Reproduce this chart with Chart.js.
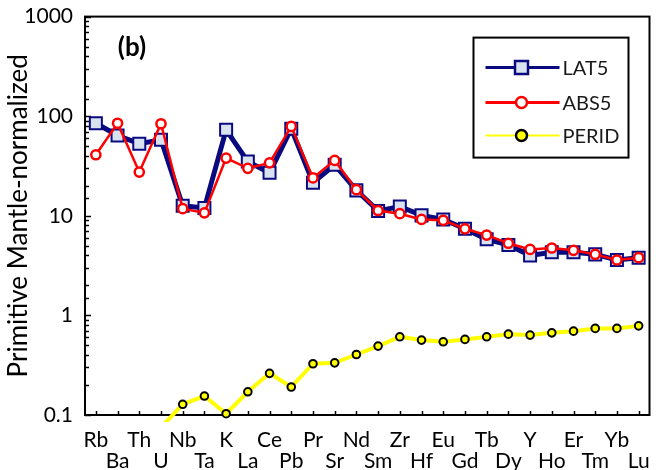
<!DOCTYPE html>
<html lang="en">
<head>
<meta charset="UTF-8">
<title>Primitive mantle-normalized spider diagram</title>
<script src="https://cdn.jsdelivr.net/npm/chart.js@4.4.0/dist/chart.umd.min.js"></script>
<style>
  body { margin: 0; background: #fff; overflow: hidden; }
  canvas { display: block; }
</style>
</head>
<body>
<canvas id="spider" width="660" height="470"></canvas>
<script>
// elements, in diagram order
var elements = ['Rb', 'Ba', 'Th', 'U', 'Nb', 'Ta', 'K', 'La', 'Ce', 'Pb', 'Pr', 'Sr', 'Nd',
                'Sm', 'Zr', 'Hf', 'Eu', 'Gd', 'Tb', 'Dy', 'Y', 'Ho', 'Er', 'Tm', 'Yb', 'Lu'];

// primitive mantle-normalized values
var lat5 = [85, 64, 53, 58, 12.6, 12.0, 73, 35, 27, 75, 21.5, 32.5, 18, 11.2,
            12.4, 10.1, 9.2, 7.4, 5.8, 5.1, 4.0, 4.3, 4.3, 4.1, 3.6, 3.8];
var abs5 = [41, 85, 27.5, 84, 11.8, 10.7, 38, 30, 34, 79, 24, 36, 18.3, 11.3,
            10.5, 9.2, 9.0, 7.4, 6.4, 5.3, 4.6, 4.75, 4.5, 4.1, 3.6, 3.8];
var perid = [null, null, null, 0.075, 0.128, 0.155, 0.103, 0.171, 0.262, 0.191, 0.327, 0.334, 0.405,
             0.492, 0.61, 0.565, 0.543, 0.574, 0.61, 0.648, 0.634, 0.668, 0.695, 0.74, 0.74, 0.785];

var yTickLabels = ['0.1', '1', '10', '100', '1000'];
var panelLabel = '(b)';

var FONT = 'Lato';

// frame box + inward tick marks (drawn under the data)
var framePlugin = {
    id: 'frame',
    beforeDatasetsDraw: function(chart) {
        var ctx = chart.ctx, a = chart.chartArea;
        var xs = chart.scales.x, ys = chart.scales.y;
        ctx.save();
        ctx.strokeStyle = '#000';
        ctx.lineWidth = 1.5;
        ys.ticks.forEach(function(t) {
            var e = Math.log10(t.value);
            var major = Math.abs(e - Math.round(e)) < 1e-6;
            var py = Math.round(ys.getPixelForValue(t.value)) + 0.5;
            ctx.beginPath();
            ctx.moveTo(a.left, py);
            ctx.lineTo(a.left + (major ? 6 : 4), py);
            ctx.stroke();
        });
        elements.forEach(function(el, i) {
            var px = Math.round(xs.getPixelForValue(i)) + 0.5;
            ctx.beginPath();
            ctx.moveTo(px, a.bottom);
            ctx.lineTo(px, a.bottom - 4);
            ctx.stroke();
        });
        ctx.lineWidth = 2;
        ctx.strokeRect(a.left, a.top, a.right - a.left, a.bottom - a.top);
        ctx.restore();
    },
    afterDatasetsDraw: function(chart) {
        var ctx = chart.ctx, a = chart.chartArea;
        ctx.save();
        // panel label
        ctx.fillStyle = '#000';
        ctx.font = 'bold 26px ' + FONT;
        ctx.textAlign = 'center';
        ctx.textBaseline = 'middle';
        ctx.fillText(panelLabel, a.left + 47, a.top + 31);

        // legend box
        var bw = 155, bh = 120;
        var bx = a.right - 21 - bw, by = a.top + 21;
        ctx.fillStyle = '#fff';
        ctx.fillRect(bx, by, bw, bh);
        ctx.strokeStyle = '#000';
        ctx.lineWidth = 2;
        ctx.strokeRect(bx, by, bw, bh);

        var rows = [30, 65, 98];
        var lineW = [3, 3, 2];
        chart.data.datasets.forEach(function(ds, i) {
            var y = by + rows[i];
            var mx = bx + 48;
            ctx.strokeStyle = ds.borderColor;
            ctx.lineWidth = lineW[i];
            ctx.beginPath();
            ctx.moveTo(bx + 12, y);
            ctx.lineTo(bx + 86, y);
            ctx.stroke();
            ctx.fillStyle = ds.pointBackgroundColor;
            ctx.strokeStyle = ds.pointBorderColor;
            ctx.lineWidth = 2.5;
            ctx.beginPath();
            if (ds.pointStyle === 'rect') {
                ctx.rect(mx - 6.5, y - 6.5, 13, 13);
            } else {
                ctx.arc(mx, y, 5.5, 0, Math.PI * 2);
            }
            ctx.fill();
            ctx.stroke();
            ctx.fillStyle = '#1a1a1a';
            ctx.font = '20px ' + FONT;
            ctx.textAlign = 'left';
            ctx.textBaseline = 'middle';
            ctx.fillText(ds.label, bx + 89, y + 1);
        });
        ctx.restore();
    }
};

var ctx = document.getElementById('spider').getContext('2d');
var spiderChart = new Chart(ctx, {
    type: 'line',
    data: {
        labels: elements,
        datasets: [{
            label: 'LAT5',
            data: lat5,
            order: 2,
            borderColor: '#0a0a80',
            borderWidth: 5,
            pointStyle: 'rect',
            pointRadius: 8.5,
            pointBackgroundColor: '#d9e3f0',
            pointBorderColor: '#0a0a80',
            pointBorderWidth: 2
        }, {
            label: 'ABS5',
            data: abs5,
            order: 1,
            borderColor: '#ff0000',
            borderWidth: 2.5,
            pointStyle: 'circle',
            pointRadius: 4.6,
            pointBackgroundColor: '#ffffff',
            pointBorderColor: '#ff0000',
            pointBorderWidth: 2.5
        }, {
            label: 'PERID',
            data: perid,
            order: 0,
            borderColor: '#ffff00',
            borderWidth: 4,
            pointStyle: 'circle',
            pointRadius: 3.8,
            pointBackgroundColor: '#ffff00',
            pointBorderColor: '#000000',
            pointBorderWidth: 2,
            clip: { left: 2, top: 2, right: 2, bottom: 7 }
        }]
    },
    options: {
        responsive: false,
        animation: false,
        events: [],
        layout: { padding: { top: 16, right: 3, left: 0, bottom: 0 } },
        elements: { line: { tension: 0 } },
        plugins: {
            legend: { display: false },
            tooltip: { enabled: false }
        },
        scales: {
            x: {
                type: 'category',
                offset: true,
                grid: { display: false },
                border: { display: false },
                ticks: {
                    autoSkip: false,
                    maxRotation: 0,
                    minRotation: 0,
                    padding: 7,
                    color: '#000',
                    font: { family: FONT, size: 21, lineHeight: 1.0 },
                    callback: function(v, i) {
                        return i % 2 === 0 ? [elements[i], ''] : ['', elements[i]];
                    }
                },
                afterFit: function(s) { s.height = 55; }
            },
            y: {
                type: 'logarithmic',
                min: 0.1,
                max: 1000,
                grid: { display: false },
                border: { display: false },
                ticks: {
                    autoSkip: false,
                    padding: 4,
                    color: '#000',
                    font: { family: FONT, size: 21 },
                    callback: function(v) {
                        var e = Math.log10(v);
                        if (Math.abs(e - Math.round(e)) < 1e-6) {
                            return yTickLabels[Math.round(e) + 1];
                        }
                        return '';
                    }
                },
                title: {
                    display: true,
                    text: 'Primitive Mantle-normalized',
                    color: '#000',
                    font: { family: FONT, size: 26 },
                    padding: { top: 3, bottom: 0 }
                },
                afterFit: function(s) { s.width = 85; }
            }
        }
    },
    plugins: [framePlugin]
});
</script>
</body>
</html>
